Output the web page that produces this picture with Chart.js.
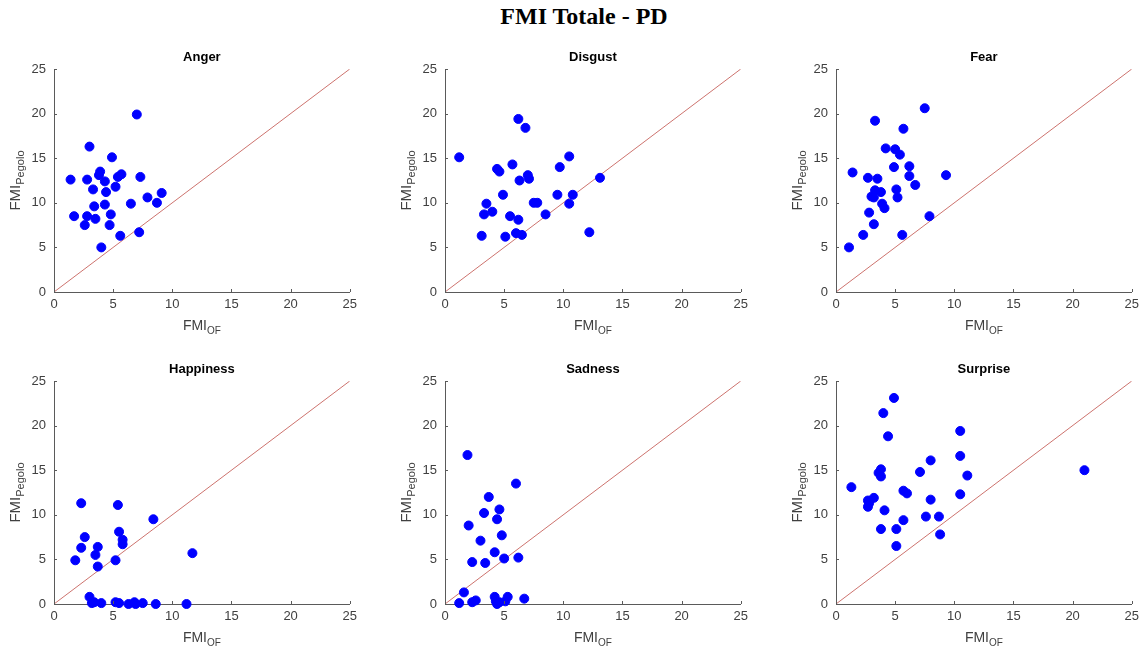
<!DOCTYPE html>
<html>
<head>
<meta charset="utf-8">
<script src="https://cdn.jsdelivr.net/npm/chart.js@4/dist/chart.umd.min.js"></script>
<style>
  body { margin: 0; width: 1144px; height: 648px; overflow: hidden; background: #fff; position: relative; }
  #suptitle { position: absolute; top: 3px; left: 584px; transform: translateX(-50%);
    font: bold 24px "Liberation Serif", "Times New Roman", serif; color: #000; white-space: nowrap; }
  canvas { position: absolute; }
</style>
</head>
<body>
<div id="suptitle">FMI Totale - PD</div>

<script>
// dati (FMI_OF sull'asse x, FMI_Pegolo sull'asse y)
var emotions = ['Anger', 'Disgust', 'Fear', 'Happiness', 'Sadness', 'Surprise'];
var axisTicks = [0, 5, 10, 15, 20, 25];
var diagonal = [0, 25];

var angerOF     = [7.0, 3.0, 4.9, 3.9, 3.8, 5.7, 5.4, 7.3, 1.4, 2.8, 4.3, 3.3, 5.2, 4.4, 7.9, 9.1, 8.7, 6.5, 3.4, 4.3, 1.7, 2.8, 4.8, 3.5, 2.6, 4.7, 5.6, 7.2, 4.0];
var angerPegolo = [19.9, 16.3, 15.1, 13.5, 13.1, 13.2, 12.9, 12.9, 12.6, 12.6, 12.4, 11.5, 11.8, 11.2, 10.6, 11.1, 10.0, 9.9, 9.6, 9.8, 8.5, 8.5, 8.7, 8.2, 7.5, 7.5, 6.3, 6.7, 5.0];

var disgustOF     = [1.2, 6.2, 6.8, 5.7, 4.4, 4.6, 7.0, 7.1, 6.3, 10.5, 9.7, 13.1, 4.9, 9.5, 10.8, 3.5, 4.0, 3.3, 7.5, 7.8, 10.5, 5.5, 6.2, 8.5, 3.1, 5.1, 6.0, 6.5, 12.2];
var disgustPegolo = [15.1, 19.4, 18.4, 14.3, 13.8, 13.5, 13.1, 12.7, 12.5, 15.2, 14.0, 12.8, 10.9, 10.9, 10.9, 9.9, 9.0, 8.7, 10.0, 10.0, 9.9, 8.5, 8.1, 8.7, 6.3, 6.2, 6.6, 6.4, 6.7];

var fearOF     = [7.5, 3.3, 5.7, 4.2, 5.0, 5.4, 4.9, 6.2, 1.4, 2.7, 3.5, 6.2, 6.7, 9.3, 3.3, 3.8, 5.1, 3.0, 3.2, 5.2, 3.9, 4.1, 2.8, 7.9, 3.2, 2.3, 5.6, 1.1];
var fearPegolo = [20.6, 19.2, 18.3, 16.1, 16.0, 15.4, 14.0, 14.1, 13.4, 12.8, 12.7, 13.0, 12.0, 13.1, 11.4, 11.2, 11.5, 10.7, 10.6, 10.6, 9.9, 9.4, 8.9, 8.5, 7.6, 6.4, 6.4, 5.0];

var happinessOF     = [2.3, 5.4, 8.4, 5.5, 2.6, 5.8, 5.8, 2.3, 3.7, 3.5, 11.7, 1.8, 5.2, 3.7, 3.0, 3.2, 3.4, 4.0, 5.2, 5.5, 6.3, 6.8, 6.9, 7.5, 8.6, 11.2];
var happinessPegolo = [11.3, 11.1, 9.5, 8.1, 7.5, 7.2, 6.7, 6.3, 6.4, 5.5, 5.7, 4.9, 4.9, 4.2, 0.8, 0.1, 0.2, 0.1, 0.2, 0.1, 0.0, 0.2, 0.0, 0.1, 0.0, 0.0];

var sadnessOF     = [1.9, 6.0, 3.7, 3.3, 4.6, 4.4, 2.0, 4.8, 3.0, 4.2, 5.0, 6.2, 2.3, 3.4, 1.6, 1.2, 2.3, 2.6, 4.2, 4.3, 4.4, 4.6, 5.1, 5.3, 6.7];
var sadnessPegolo = [16.7, 13.5, 12.0, 10.2, 10.6, 9.5, 8.8, 7.7, 7.1, 5.8, 5.1, 5.2, 4.7, 4.6, 1.3, 0.1, 0.2, 0.4, 0.8, 0.3, 0.0, 0.2, 0.3, 0.8, 0.6];

var surpriseOF     = [4.9, 4.0, 4.4, 10.5, 10.5, 8.0, 7.1, 3.8, 3.6, 3.8, 11.1, 21.0, 1.3, 5.7, 6.0, 10.5, 3.2, 2.7, 2.8, 2.7, 8.0, 4.1, 7.6, 8.7, 5.7, 3.8, 5.1, 8.8, 5.1];
var surprisePegolo = [23.1, 21.4, 18.8, 19.4, 16.6, 16.1, 14.8, 15.1, 14.7, 14.3, 14.4, 15.0, 13.1, 12.7, 12.4, 12.3, 11.9, 11.6, 11.3, 10.9, 11.7, 10.5, 9.8, 9.8, 9.4, 8.4, 8.4, 7.8, 6.5];

var seriesOF = [angerOF, disgustOF, fearOF, happinessOF, sadnessOF, surpriseOF];
var seriesPegolo = [angerPegolo, disgustPegolo, fearPegolo, happinessPegolo, sadnessPegolo, surprisePegolo];

var FONT = '"Liberation Sans", Arial, sans-serif';
var TEXT_GRAY = '#404040';
var AXIS_GRAY = '#5a5a5a';

// testo con pedice (FMI_OF, FMI_Pegolo)
function drawSub(ctx, main, sub, cx, cy, size) {
  var subSize = Math.round(size * 0.72);
  ctx.font = size + 'px ' + FONT;
  var w1 = ctx.measureText(main).width;
  ctx.font = subSize + 'px ' + FONT;
  var w2 = ctx.measureText(sub).width;
  var x = cx - (w1 + w2) / 2;
  ctx.textAlign = 'left';
  ctx.textBaseline = 'alphabetic';
  ctx.fillStyle = TEXT_GRAY;
  ctx.font = size + 'px ' + FONT;
  ctx.fillText(main, x, cy + 5);
  ctx.font = subSize + 'px ' + FONT;
  ctx.fillText(sub, x + w1, cy + 9);
}

// titolo del pannello, etichette degli assi e tacche interne stile MATLAB
var panelText = {
  id: 'panelText',
  afterDraw: function (chart, args, opts) {
    var ctx = chart.ctx;
    var a = chart.chartArea;
    var xs = chart.scales.x, ys = chart.scales.y;
    ctx.save();

    ctx.strokeStyle = AXIS_GRAY;
    ctx.lineWidth = 1;
    ctx.beginPath();
    axisTicks.forEach(function (t) {
      var px = Math.round(xs.getPixelForValue(t)) + 0.5;
      ctx.moveTo(px, a.bottom);
      ctx.lineTo(px, a.bottom - 3);
      var py = Math.round(ys.getPixelForValue(t)) + 0.5;
      ctx.moveTo(a.left, py);
      ctx.lineTo(a.left + 3, py);
    });
    ctx.stroke();

    ctx.fillStyle = '#000';
    ctx.font = 'bold 13px ' + FONT;
    ctx.textAlign = 'center';
    ctx.textBaseline = 'middle';
    ctx.fillText(opts.title, (a.left + a.right) / 2, a.top - 12);

    drawSub(ctx, 'FMI', 'OF', (a.left + a.right) / 2, a.bottom + 33, 14);

    ctx.translate(15, (a.top + a.bottom) / 2);
    ctx.rotate(-Math.PI / 2);
    drawSub(ctx, 'FMI', 'Pegolo', 0, 0, 15);
    ctx.restore();
  }
};

function makePanel(i) {
  var col = i % 3, row = Math.floor(i / 3);
  var canvas = document.createElement('canvas');
  canvas.width = 362;
  canvas.height = 298;
  canvas.style.left = (391 * col) + 'px';
  canvas.style.top = (40 + 312 * row) + 'px';
  document.body.appendChild(canvas);

  var points = seriesOF[i].map(function (v, k) {
    return { x: v, y: seriesPegolo[i][k] };
  });
  var diagLine = diagonal.map(function (v) { return { x: v, y: v }; });

  var tickStyle = { color: TEXT_GRAY, font: { family: FONT, size: 13 } };

  return new Chart(canvas, {
    type: 'scatter',
    data: {
      datasets: [{
        data: points,
        backgroundColor: '#0000ff',
        borderColor: '#0000ff',
        borderWidth: 1,
        pointRadius: 4.5,
        pointHoverRadius: 4.5,
        clip: false,
        order: 0
      }, {
        type: 'line',
        data: diagLine,
        borderColor: 'rgb(205,115,110)',
        borderWidth: 1,
        pointRadius: 0,
        fill: false,
        order: 1
      }]
    },
    options: {
      responsive: false,
      animation: false,
      devicePixelRatio: 1,
      layout: { padding: { top: 29, right: 12, left: 0, bottom: 0 } },
      plugins: {
        legend: { display: false },
        tooltip: { enabled: false },
        panelText: { title: emotions[i] }
      },
      scales: {
        x: {
          type: 'linear', min: 0, max: 25,
          afterFit: function (s) { s.height = 46; },
          ticks: Object.assign({ stepSize: 5, padding: 5, maxRotation: 0 }, tickStyle),
          grid: { display: false, drawTicks: false },
          border: { display: true, color: AXIS_GRAY, width: 1 }
        },
        y: {
          type: 'linear', min: 0, max: 25,
          afterFit: function (s) { s.width = 54; },
          ticks: Object.assign({ stepSize: 5, padding: 8 }, tickStyle),
          grid: { display: false, drawTicks: false },
          border: { display: true, color: AXIS_GRAY, width: 1 }
        }
      }
    },
    plugins: [panelText]
  });
}

for (var i = 0; i < emotions.length; i++) {
  makePanel(i);
}
</script>
</body>
</html>
